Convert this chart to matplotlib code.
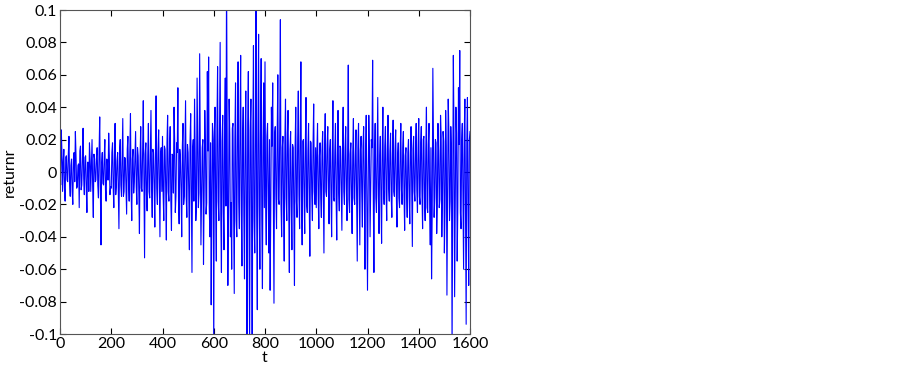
import numpy as np
import matplotlib
matplotlib.use("Agg")
import matplotlib.pyplot as plt
from matplotlib.ticker import FuncFormatter

# returns, in units of 0.001
# r_*: the outer swings, one value every 5 steps of t
# c_*: the dense small core in between, at the half steps
STEP = 2.5
r_0000 = [5, 26, -12, 14, -18, 10, -6, 22, -15, 8, -20, 12, 25, -10, 4, -22, 16, -8, 27, -14,
          10, -25, 6, 18, -12, 20, -28, 8, -5, 15, -16, 34, -45, 12, -8, 20, -18, 6, 24, -14]
r_0200 = [-10, 18, -22, 30, -8, 12, -35, 20, -15, 33, -12, 8, -26, 22, -18, 36, -30, 14, -6, 25,
          -20, 10, -38, 28, -12, 44, -53, 18, -24, 30, -16, 38, -28, 12, -34, 47, -20, 26, -40, 15]
r_0400 = [22, -30, 14, -42, 35, -18, 28, -36, 10, 40, -25, 18, 52, -32, 8, -40, 30, -15, 44, -28,
          12, -48, 36, -62, 20, 45, -30, 58, -22, 73, -45, 15, -57, 38, -26, 62, 71, -40, -82, 30]
r_0600 = [-115, 40, -55, 65, -30, 80, -62, 35, -48, 58, 125, -70, 45, -40, -60, 30, -75, 55, -40, 68,
          -35, 72, -58, 40, -66, 50, -120, 62, -110, 45, -130, 78, -50, 118, -85, 85, -60, 70, -72, 55]
r_0800 = [68, -45, 30, -50, -73, 40, 55, -81, 28, -35, 60, -20, 94, -40, 22, -55, 45, -30, 38, -62,
          25, -48, 15, -70, 40, -28, 50, -35, 68, -45, 20, -38, 46, -25, 30, -52, 18, -30, 42, -20]
r_1000 = [-22, 30, -35, 18, -28, 25, -50, 36, -15, 28, -32, 20, -40, 44, -18, 30, -42, 38, -24, 15,
          -36, 40, -20, 28, -30, 66, -25, 18, -38, 33, -20, 26, -55, 30, -45, 22, -34, 28, -60, 35]
r_1200 = [-73, 35, -40, 20, 69, -62, 30, -25, 46, -38, 22, -44, 40, -20, 28, -30, 35, -18, 24, -28,
          32, -15, 26, -34, 18, -22, 30, -20, 25, -36, 15, -28, 20, -32, 28, -46, 22, -18, 30, -25]
r_1400 = [33, -20, 28, -35, 22, -30, 40, -25, 30, -45, -66, 64, -28, 20, -38, 30, -22, 35, -40, 25,
          -50, 38, -76, 45, -30, 28, -110, 72, -77, 40, -55, 52, 75, -35, 30, -60, 45, -94, 46, -70, 25]

c_0000 = [-8, 12, 6, -10, 9, -5, 11, -7, 4, -12, 8, -6, 10, -9, 5, 13, -11, 7, -4, 9,
          -10, 6, -12, 8, 5, -9, 11, -6, 10, -8, 12, -10, 6, -7, 9, -11, 8, -5, 10, -9]
c_0200 = [12, -9, 10, -14, 7, -11, 13, -8, 11, -15, 9, -10, 14, -7, 12, -11, 8, -13, 10, -9,
          15, -12, 9, -10, 13, -8, 11, -14, 10, -12, 9, -11, 14, -8, 12, -10, 13, -9, 11, -12]
c_0400 = [-14, 16, -10, 18, -12, 15, -17, 11, -13, 19, -15, 12, -18, 14, -11, 16, -20, 13, -15, 17,
          -12, 19, -16, 14, -18, 12, -20, 15, -13, 18, -16, 20, -14, 17, -19, 13, -22, 18, -15, 20]
c_0600 = [25, -20, 28, -18, 22, -26, 19, -24, 30, -21, 17, -28, 23, -19, 27, -22, 20, -30, 24, -18,
          28, -25, 21, -27, 19, -23, 30, -20, 26, -24, 22, -29, 18, -25, 27, -21, 24, -28, 20, -22]
c_0800 = [-18, 22, -15, 20, -24, 16, -19, 23, -14, 21, -17, 25, -20, 15, -22, 18, -16, 24, -19, 14,
          -21, 17, -23, 15, -18, 20, -14, 22, -17, 19, -15, 18, -20, 13, -16, 19, -14, 17, -12, 15]
c_1000 = [12, -14, 10, -16, 13, -11, 15, -12, 17, -10, 14, -13, 11, -16, 12, -15, 10, -13, 16, -11,
          14, -12, 15, -10, 13, -17, 11, -14, 12, -16, 10, -13, 15, -11, 14, -12, 16, -10, 13, -15]
c_1200 = [-12, 14, -10, 15, -13, 11, -16, 12, -14, 10, -15, 13, -11, 16, -12, 14, -10, 13, -15, 11,
          -12, 14, -13, 10, -16, 12, -11, 15, -14, 10, -13, 12, -15, 11, -10, 14, -12, 13, -11, 15]
c_1400 = [-15, 18, -12, 20, -16, 14, -22, 17, -19, 15, -24, 21, -16, 18, -20, 13, -17, 22, -15, 19,
          -23, 16, -20, 25, -18, 14, -26, 22, -19, 24, -21, 17, -25, 20, -16, 23, -27, 18, -22, 20]

outer = r_0000 + r_0200 + r_0400 + r_0600 + r_0800 + r_1000 + r_1200 + r_1400
core = c_0000 + c_0200 + c_0400 + c_0600 + c_0800 + c_1000 + c_1200 + c_1400

returns = np.empty(len(outer) + len(core))
returns[0::2] = outer
returns[1::2] = core
returns = returns * 0.001
t = np.arange(len(returns)) * STEP

plt.rcParams['font.family'] = ['Lato', 'DejaVu Sans']
plt.rcParams['axes.unicode_minus'] = False

fig = plt.figure(figsize=(9.03, 3.71), dpi=100)
ax = fig.add_axes([60 / 903, 37 / 371, 410 / 903, 324 / 371])
ax.plot(t, returns, color='#0000ff', linewidth=0.8)

ax.set_xlim(0, 1600)
ax.set_ylim(-0.1, 0.1)
ax.set_xticks(np.arange(0, 1601, 200))
ax.set_yticks(np.linspace(-0.1, 0.1, 11))
ax.yaxis.set_major_formatter(FuncFormatter(lambda v, p: '%g' % round(v, 2)))
ax.tick_params(direction='in', top=True, right=True, length=4, labelsize=11.5, pad=2)
for s in ax.spines.values():
    s.set_color('#555555')
    s.set_linewidth(0.8)

ax.set_xlabel('t', fontsize=11.5, labelpad=0)
ax.set_ylabel('returnr', fontsize=11.5, labelpad=2)

fig.savefig('out.png', dpi=100)
